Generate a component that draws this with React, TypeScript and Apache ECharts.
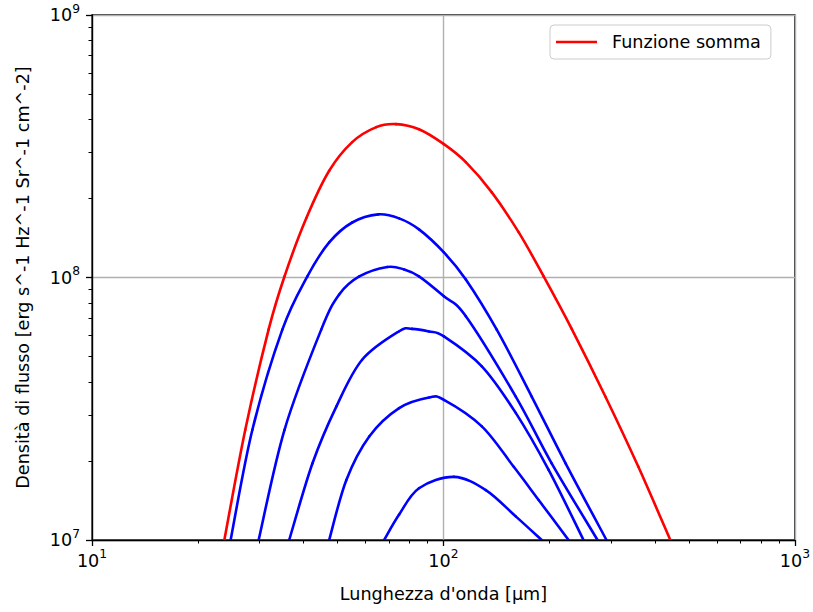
import React, { useEffect, useRef } from 'react';
import * as echarts from 'echarts';

// Wavelengths in µm and flux densities in erg s^-1 Hz^-1 Sr^-1 cm^-2.
const sumLambda = [23.8, 27.3, 31.8, 35.3, 40.7, 47.3, 55.0, 64.4, 73.3, 85.2, 100.3, 115.8, 137.3, 163.8, 192.8, 231.5, 289.1, 358.6, 442.0];
const sumFlux = [1.0e7, 2.63e7, 6.33e7, 1.01e8, 1.68e8, 2.55e8, 3.28e8, 3.74e8, 3.84e8, 3.67e8, 3.22e8, 2.75e8, 2.11e8, 1.485e8, 1.01e8, 6.39e7, 3.515e7, 1.9e7, 1.0e7];

const comp1Lambda = [24.8, 28.6, 34.8, 41.0, 47.3, 55.0, 65.2, 74.8, 85.2, 100.3, 115.8, 141.8, 178.3, 222.6, 291.0];
const comp1Flux = [1.0e7, 2.63e7, 6.33e7, 1.01e8, 1.36e8, 1.62e8, 1.74e8, 1.68e8, 1.525e8, 1.246e8, 9.83e7, 6.33e7, 3.52e7, 1.96e7, 1.0e7];

const comp2Lambda = [29.8, 35.3, 44.9, 50.5, 57.6, 69.2, 77.3, 85.2, 100.3, 115.8, 160.6, 203.2, 274.4];
const comp2Flux = [1.0e7, 2.63e7, 6.33e7, 8.61e7, 1.009e8, 1.097e8, 1.073e8, 1.01e8, 8.48e7, 7.12e7, 3.52e7, 1.96e7, 1.0e7];

const comp3Lambda = [36.4, 42.4, 49.6, 58.7, 74.8, 81.4, 91.0, 100.3, 128.6, 160.6, 199.2, 250.3];
const comp3Flux = [1.0e7, 1.96e7, 3.23e7, 4.86e7, 6.24e7, 6.37e7, 6.23e7, 5.97e7, 4.59e7, 3.05e7, 1.85e7, 1.0e7];

const comp4Lambda = [47.3, 52.9, 61.5, 74.8, 91.0, 100.3, 128.6, 158.5, 186.6, 227.0];
const comp4Flux = [1.0e7, 1.69e7, 2.48e7, 3.18e7, 3.49e7, 3.42e7, 2.71e7, 1.9e7, 1.42e7, 1.0e7];

const comp5Lambda = [67.8, 74.8, 85.2, 107.1, 132.0, 160.6, 190.3];
const comp5Flux = [1.0e7, 1.25e7, 1.575e7, 1.74e7, 1.55e7, 1.23e7, 1.0e7];

const components = [
  { name: 'Componente 1', lambda: comp1Lambda, flux: comp1Flux },
  { name: 'Componente 2', lambda: comp2Lambda, flux: comp2Flux },
  { name: 'Componente 3', lambda: comp3Lambda, flux: comp3Flux },
  { name: 'Componente 4', lambda: comp4Lambda, flux: comp4Flux },
  { name: 'Componente 5', lambda: comp5Lambda, flux: comp5Flux },
];

const sumName = 'Funzione somma';
const xTitle = "Lunghezza d'onda [μm]";
const yTitle = 'Densità di flusso [erg s^-1 Hz^-1 Sr^-1 cm^-2]';

const FONT = 'DejaVu Sans';
const zip = (xs: number[], ys: number[]) => xs.map((x, i) => [x, ys[i]]);
const powLabel = (v: number) => `{b|10}{s|${Math.round(Math.log10(v))}}`;

const tickRich = {
  b: { fontSize: 17.6, fontFamily: FONT, color: '#000' },
  s: { fontSize: 12.3, fontFamily: FONT, color: '#000', padding: [0, 0, 13, 0] },
};

const axisCommon = {
  type: 'log' as const,
  logBase: 10,
  axisLine: { show: true, lineStyle: { color: '#000', width: 1.3 } },
  axisTick: { show: true, inside: false, length: 6, lineStyle: { color: '#000', width: 1.3 } },
  minorTick: { show: true, splitNumber: 9, length: 3.5, lineStyle: { color: '#000', width: 1 } },
  splitLine: { show: true, lineStyle: { color: '#b0b0b0', width: 1.4 } },
  minorSplitLine: { show: false },
  nameLocation: 'middle' as const,
  nameTextStyle: { fontSize: 17.6, fontFamily: FONT, color: '#000' },
};

// Catmull-Rom spline through the projected points, emitted as cubic bezier pieces.
const splinePieces = (pts: number[][], color: string) => {
  const n = pts.length;
  const pieces = [];
  for (let i = 0; i < n - 1; i++) {
    const p0 = pts[Math.max(i - 1, 0)];
    const p1 = pts[i];
    const p2 = pts[i + 1];
    const p3 = pts[Math.min(i + 2, n - 1)];
    pieces.push({
      type: 'bezierCurve',
      shape: {
        x1: p1[0],
        y1: p1[1],
        cpx1: p1[0] + (p2[0] - p0[0]) / 6,
        cpy1: p1[1] + (p2[1] - p0[1]) / 6,
        cpx2: p2[0] - (p3[0] - p1[0]) / 6,
        cpy2: p2[1] - (p3[1] - p1[1]) / 6,
        x2: p2[0],
        y2: p2[1],
      },
      style: { stroke: color, lineWidth: 2.6, fill: null, lineCap: 'round' },
    });
  }
  return pieces;
};

// A spectrum drawn as one curve through its points, projected with the chart's log axes.
const curveSeries = (name: string, lambda: number[], flux: number[], color: string) => {
  const data = zip(lambda, flux);
  return {
    name,
    type: 'custom',
    data,
    encode: { x: 0, y: 1 },
    itemStyle: { color },
    clip: true,
    renderItem: (params: any, api: any) => {
      if (params.dataIndex !== 0) return null;
      const points = data.map((d) => api.coord(d));
      return { type: 'group', children: splinePieces(points, color) };
    },
  };
};

export default function App() {
  const ref = useRef<HTMLDivElement>(null);

  useEffect(() => {
    if (!ref.current) return;
    const chart = echarts.init(ref.current, undefined, { renderer: 'svg' });

    chart.setOption({
      animation: false,
      backgroundColor: '#ffffff',
      grid: {
        left: 92,
        top: 15,
        width: 705,
        height: 525,
        show: true,
        borderColor: '#000',
        borderWidth: 1.3,
        backgroundColor: 'transparent',
      },
      legend: {
        data: [{ name: sumName, icon: 'rect' }],
        left: 550,
        top: 25,
        itemWidth: 41,
        itemHeight: 2.6,
        padding: [8, 10, 8, 6],
        borderColor: '#cccccc',
        borderWidth: 1,
        borderRadius: 4,
        backgroundColor: 'rgba(255,255,255,0.8)',
        selectedMode: false,
        itemStyle: { color: '#ff0000' },
        textStyle: { fontSize: 17.6, fontFamily: FONT, color: '#000', padding: [0, 0, 0, 10] },
      },
      xAxis: {
        ...axisCommon,
        min: 10,
        max: 1000,
        name: xTitle,
        nameGap: 45,
        axisLabel: { formatter: powLabel, rich: tickRich, margin: 8 },
      },
      yAxis: {
        ...axisCommon,
        min: 1e7,
        max: 1e9,
        name: yTitle,
        nameGap: 60,
        axisLabel: { formatter: powLabel, rich: tickRich, margin: 12 },
      },
      series: [
        ...components.map((c) => curveSeries(c.name, c.lambda, c.flux, '#0000ff')),
        curveSeries(sumName, sumLambda, sumFlux, '#ff0000'),
      ],
    });

    return () => chart.dispose();
  }, []);

  return (
    <div
      ref={ref}
      style={{ position: 'fixed', left: 0, top: 0, width: 813, height: 612, background: '#fff' }}
    />
  );
}
